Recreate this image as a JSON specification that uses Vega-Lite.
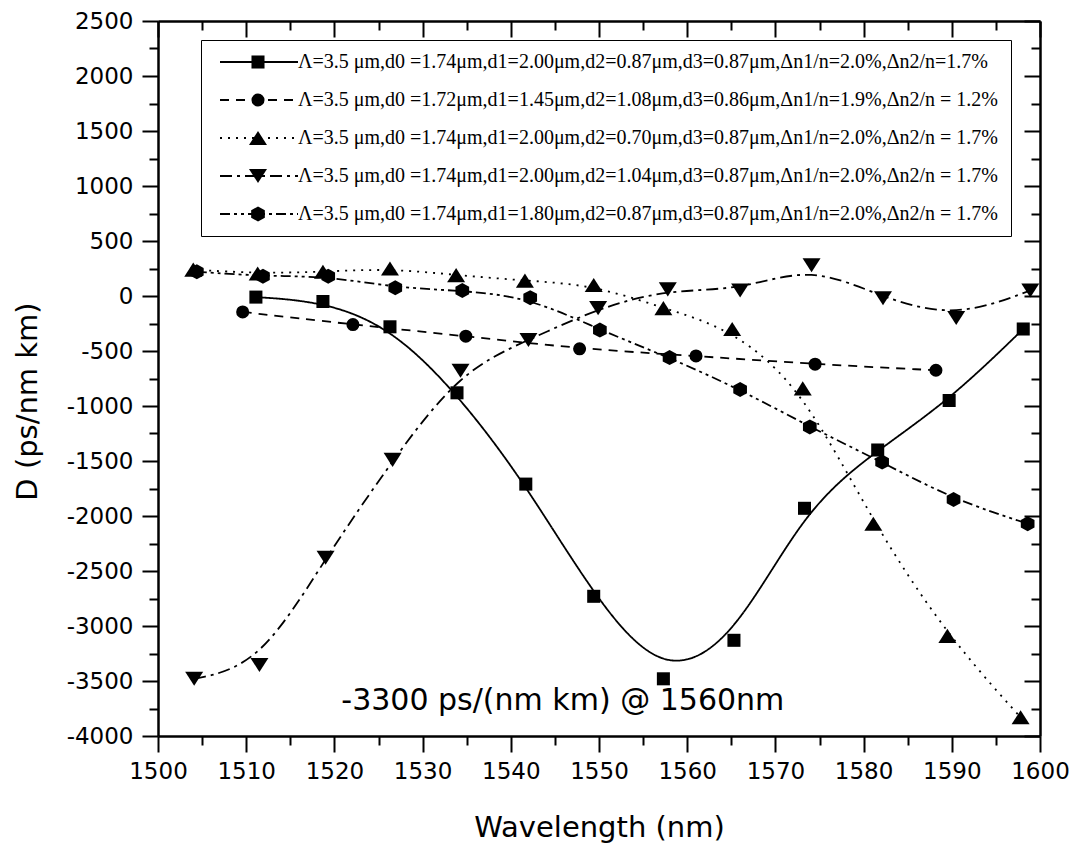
{
  "$schema": "https://vega.github.io/schema/vega-lite/v6.json",
  "width": 882,
  "height": 715,
  "autosize": {"type": "none"},
  "padding": {"left": 158, "top": 21, "right": 36, "bottom": 113},
  "background": "white",
  "config": {"view": {"stroke": null}},
  "data": {
    "values": [
      {"s": "Λ=3.5 μm,d0 =1.74μm,d1=2.00μm,d2=0.87μm,d3=0.87μm,Δn1/n=2.0%,Δn2/n=1.7%", "o": 1, "wl": 1511.1, "D": -10},
      {"s": "Λ=3.5 μm,d0 =1.74μm,d1=2.00μm,d2=0.87μm,d3=0.87μm,Δn1/n=2.0%,Δn2/n=1.7%", "o": 1, "wl": 1518.7, "D": -50},
      {"s": "Λ=3.5 μm,d0 =1.74μm,d1=2.00μm,d2=0.87μm,d3=0.87μm,Δn1/n=2.0%,Δn2/n=1.7%", "o": 1, "wl": 1526.3, "D": -280},
      {"s": "Λ=3.5 μm,d0 =1.74μm,d1=2.00μm,d2=0.87μm,d3=0.87μm,Δn1/n=2.0%,Δn2/n=1.7%", "o": 1, "wl": 1533.9, "D": -880},
      {"s": "Λ=3.5 μm,d0 =1.74μm,d1=2.00μm,d2=0.87μm,d3=0.87μm,Δn1/n=2.0%,Δn2/n=1.7%", "o": 1, "wl": 1541.7, "D": -1710},
      {"s": "Λ=3.5 μm,d0 =1.74μm,d1=2.00μm,d2=0.87μm,d3=0.87μm,Δn1/n=2.0%,Δn2/n=1.7%", "o": 1, "wl": 1549.4, "D": -2730},
      {"s": "Λ=3.5 μm,d0 =1.74μm,d1=2.00μm,d2=0.87μm,d3=0.87μm,Δn1/n=2.0%,Δn2/n=1.7%", "o": 1, "wl": 1557.3, "D": -3480},
      {"s": "Λ=3.5 μm,d0 =1.74μm,d1=2.00μm,d2=0.87μm,d3=0.87μm,Δn1/n=2.0%,Δn2/n=1.7%", "o": 1, "wl": 1565.3, "D": -3130},
      {"s": "Λ=3.5 μm,d0 =1.74μm,d1=2.00μm,d2=0.87μm,d3=0.87μm,Δn1/n=2.0%,Δn2/n=1.7%", "o": 1, "wl": 1573.3, "D": -1930},
      {"s": "Λ=3.5 μm,d0 =1.74μm,d1=2.00μm,d2=0.87μm,d3=0.87μm,Δn1/n=2.0%,Δn2/n=1.7%", "o": 1, "wl": 1581.6, "D": -1400},
      {"s": "Λ=3.5 μm,d0 =1.74μm,d1=2.00μm,d2=0.87μm,d3=0.87μm,Δn1/n=2.0%,Δn2/n=1.7%", "o": 1, "wl": 1589.7, "D": -950},
      {"s": "Λ=3.5 μm,d0 =1.74μm,d1=2.00μm,d2=0.87μm,d3=0.87μm,Δn1/n=2.0%,Δn2/n=1.7%", "o": 1, "wl": 1598.1, "D": -300},

      {"s": "Λ=3.5 μm,d0 =1.72μm,d1=1.45μm,d2=1.08μm,d3=0.86μm,Δn1/n=1.9%,Δn2/n = 1.2%", "o": 2, "wl": 1509.6, "D": -145},
      {"s": "Λ=3.5 μm,d0 =1.72μm,d1=1.45μm,d2=1.08μm,d3=0.86μm,Δn1/n=1.9%,Δn2/n = 1.2%", "o": 2, "wl": 1522.1, "D": -260},
      {"s": "Λ=3.5 μm,d0 =1.72μm,d1=1.45μm,d2=1.08μm,d3=0.86μm,Δn1/n=1.9%,Δn2/n = 1.2%", "o": 2, "wl": 1534.9, "D": -365},
      {"s": "Λ=3.5 μm,d0 =1.72μm,d1=1.45μm,d2=1.08μm,d3=0.86μm,Δn1/n=1.9%,Δn2/n = 1.2%", "o": 2, "wl": 1547.8, "D": -480},
      {"s": "Λ=3.5 μm,d0 =1.72μm,d1=1.45μm,d2=1.08μm,d3=0.86μm,Δn1/n=1.9%,Δn2/n = 1.2%", "o": 2, "wl": 1561.0, "D": -545},
      {"s": "Λ=3.5 μm,d0 =1.72μm,d1=1.45μm,d2=1.08μm,d3=0.86μm,Δn1/n=1.9%,Δn2/n = 1.2%", "o": 2, "wl": 1574.5, "D": -620},
      {"s": "Λ=3.5 μm,d0 =1.72μm,d1=1.45μm,d2=1.08μm,d3=0.86μm,Δn1/n=1.9%,Δn2/n = 1.2%", "o": 2, "wl": 1588.2, "D": -675},

      {"s": "Λ=3.5 μm,d0 =1.74μm,d1=2.00μm,d2=0.70μm,d3=0.87μm,Δn1/n=2.0%,Δn2/n = 1.7%", "o": 3, "wl": 1504.0, "D": 240},
      {"s": "Λ=3.5 μm,d0 =1.74μm,d1=2.00μm,d2=0.70μm,d3=0.87μm,Δn1/n=2.0%,Δn2/n = 1.7%", "o": 3, "wl": 1511.3, "D": 205},
      {"s": "Λ=3.5 μm,d0 =1.74μm,d1=2.00μm,d2=0.70μm,d3=0.87μm,Δn1/n=2.0%,Δn2/n = 1.7%", "o": 3, "wl": 1518.7, "D": 220},
      {"s": "Λ=3.5 μm,d0 =1.74μm,d1=2.00μm,d2=0.70μm,d3=0.87μm,Δn1/n=2.0%,Δn2/n = 1.7%", "o": 3, "wl": 1526.3, "D": 250},
      {"s": "Λ=3.5 μm,d0 =1.74μm,d1=2.00μm,d2=0.70μm,d3=0.87μm,Δn1/n=2.0%,Δn2/n = 1.7%", "o": 3, "wl": 1533.8, "D": 190},
      {"s": "Λ=3.5 μm,d0 =1.74μm,d1=2.00μm,d2=0.70μm,d3=0.87μm,Δn1/n=2.0%,Δn2/n = 1.7%", "o": 3, "wl": 1541.6, "D": 140},
      {"s": "Λ=3.5 μm,d0 =1.74μm,d1=2.00μm,d2=0.70μm,d3=0.87μm,Δn1/n=2.0%,Δn2/n = 1.7%", "o": 3, "wl": 1549.4, "D": 100},
      {"s": "Λ=3.5 μm,d0 =1.74μm,d1=2.00μm,d2=0.70μm,d3=0.87μm,Δn1/n=2.0%,Δn2/n = 1.7%", "o": 3, "wl": 1557.3, "D": -110},
      {"s": "Λ=3.5 μm,d0 =1.74μm,d1=2.00μm,d2=0.70μm,d3=0.87μm,Δn1/n=2.0%,Δn2/n = 1.7%", "o": 3, "wl": 1565.1, "D": -300},
      {"s": "Λ=3.5 μm,d0 =1.74μm,d1=2.00μm,d2=0.70μm,d3=0.87μm,Δn1/n=2.0%,Δn2/n = 1.7%", "o": 3, "wl": 1573.1, "D": -840},
      {"s": "Λ=3.5 μm,d0 =1.74μm,d1=2.00μm,d2=0.70μm,d3=0.87μm,Δn1/n=2.0%,Δn2/n = 1.7%", "o": 3, "wl": 1581.1, "D": -2070},
      {"s": "Λ=3.5 μm,d0 =1.74μm,d1=2.00μm,d2=0.70μm,d3=0.87μm,Δn1/n=2.0%,Δn2/n = 1.7%", "o": 3, "wl": 1589.5, "D": -3090},
      {"s": "Λ=3.5 μm,d0 =1.74μm,d1=2.00μm,d2=0.70μm,d3=0.87μm,Δn1/n=2.0%,Δn2/n = 1.7%", "o": 3, "wl": 1597.8, "D": -3830},

      {"s": "Λ=3.5 μm,d0 =1.74μm,d1=2.00μm,d2=1.04μm,d3=0.87μm,Δn1/n=2.0%,Δn2/n = 1.7%", "o": 4, "wl": 1504.1, "D": -3480},
      {"s": "Λ=3.5 μm,d0 =1.74μm,d1=2.00μm,d2=1.04μm,d3=0.87μm,Δn1/n=2.0%,Δn2/n = 1.7%", "o": 4, "wl": 1511.5, "D": -3355},
      {"s": "Λ=3.5 μm,d0 =1.74μm,d1=2.00μm,d2=1.04μm,d3=0.87μm,Δn1/n=2.0%,Δn2/n = 1.7%", "o": 4, "wl": 1519.0, "D": -2380},
      {"s": "Λ=3.5 μm,d0 =1.74μm,d1=2.00μm,d2=1.04μm,d3=0.87μm,Δn1/n=2.0%,Δn2/n = 1.7%", "o": 4, "wl": 1526.6, "D": -1490},
      {"s": "Λ=3.5 μm,d0 =1.74μm,d1=2.00μm,d2=1.04μm,d3=0.87μm,Δn1/n=2.0%,Δn2/n = 1.7%", "o": 4, "wl": 1534.3, "D": -680},
      {"s": "Λ=3.5 μm,d0 =1.74μm,d1=2.00μm,d2=1.04μm,d3=0.87μm,Δn1/n=2.0%,Δn2/n = 1.7%", "o": 4, "wl": 1542.0, "D": -400},
      {"s": "Λ=3.5 μm,d0 =1.74μm,d1=2.00μm,d2=1.04μm,d3=0.87μm,Δn1/n=2.0%,Δn2/n = 1.7%", "o": 4, "wl": 1549.9, "D": -110},
      {"s": "Λ=3.5 μm,d0 =1.74μm,d1=2.00μm,d2=1.04μm,d3=0.87μm,Δn1/n=2.0%,Δn2/n = 1.7%", "o": 4, "wl": 1557.8, "D": 60},
      {"s": "Λ=3.5 μm,d0 =1.74μm,d1=2.00μm,d2=1.04μm,d3=0.87μm,Δn1/n=2.0%,Δn2/n = 1.7%", "o": 4, "wl": 1566.0, "D": 50},
      {"s": "Λ=3.5 μm,d0 =1.74μm,d1=2.00μm,d2=1.04μm,d3=0.87μm,Δn1/n=2.0%,Δn2/n = 1.7%", "o": 4, "wl": 1574.1, "D": 280},
      {"s": "Λ=3.5 μm,d0 =1.74μm,d1=2.00μm,d2=1.04μm,d3=0.87μm,Δn1/n=2.0%,Δn2/n = 1.7%", "o": 4, "wl": 1582.2, "D": -20},
      {"s": "Λ=3.5 μm,d0 =1.74μm,d1=2.00μm,d2=1.04μm,d3=0.87μm,Δn1/n=2.0%,Δn2/n = 1.7%", "o": 4, "wl": 1590.5, "D": -200},
      {"s": "Λ=3.5 μm,d0 =1.74μm,d1=2.00μm,d2=1.04μm,d3=0.87μm,Δn1/n=2.0%,Δn2/n = 1.7%", "o": 4, "wl": 1598.9, "D": 50},

      {"s": "Λ=3.5 μm,d0 =1.74μm,d1=1.80μm,d2=0.87μm,d3=0.87μm,Δn1/n=2.0%,Δn2/n = 1.7%", "o": 5, "wl": 1504.4, "D": 220},
      {"s": "Λ=3.5 μm,d0 =1.74μm,d1=1.80μm,d2=0.87μm,d3=0.87μm,Δn1/n=2.0%,Δn2/n = 1.7%", "o": 5, "wl": 1511.9, "D": 180},
      {"s": "Λ=3.5 μm,d0 =1.74μm,d1=1.80μm,d2=0.87μm,d3=0.87μm,Δn1/n=2.0%,Δn2/n = 1.7%", "o": 5, "wl": 1519.3, "D": 180},
      {"s": "Λ=3.5 μm,d0 =1.74μm,d1=1.80μm,d2=0.87μm,d3=0.87μm,Δn1/n=2.0%,Δn2/n = 1.7%", "o": 5, "wl": 1526.9, "D": 75},
      {"s": "Λ=3.5 μm,d0 =1.74μm,d1=1.80μm,d2=0.87μm,d3=0.87μm,Δn1/n=2.0%,Δn2/n = 1.7%", "o": 5, "wl": 1534.5, "D": 50},
      {"s": "Λ=3.5 μm,d0 =1.74μm,d1=1.80μm,d2=0.87μm,d3=0.87μm,Δn1/n=2.0%,Δn2/n = 1.7%", "o": 5, "wl": 1542.2, "D": -15},
      {"s": "Λ=3.5 μm,d0 =1.74μm,d1=1.80μm,d2=0.87μm,d3=0.87μm,Δn1/n=2.0%,Δn2/n = 1.7%", "o": 5, "wl": 1550.1, "D": -310},
      {"s": "Λ=3.5 μm,d0 =1.74μm,d1=1.80μm,d2=0.87μm,d3=0.87μm,Δn1/n=2.0%,Δn2/n = 1.7%", "o": 5, "wl": 1558.0, "D": -560},
      {"s": "Λ=3.5 μm,d0 =1.74μm,d1=1.80μm,d2=0.87μm,d3=0.87μm,Δn1/n=2.0%,Δn2/n = 1.7%", "o": 5, "wl": 1566.0, "D": -850},
      {"s": "Λ=3.5 μm,d0 =1.74μm,d1=1.80μm,d2=0.87μm,d3=0.87μm,Δn1/n=2.0%,Δn2/n = 1.7%", "o": 5, "wl": 1573.9, "D": -1190},
      {"s": "Λ=3.5 μm,d0 =1.74μm,d1=1.80μm,d2=0.87μm,d3=0.87μm,Δn1/n=2.0%,Δn2/n = 1.7%", "o": 5, "wl": 1582.1, "D": -1510},
      {"s": "Λ=3.5 μm,d0 =1.74μm,d1=1.80μm,d2=0.87μm,d3=0.87μm,Δn1/n=2.0%,Δn2/n = 1.7%", "o": 5, "wl": 1590.2, "D": -1850},
      {"s": "Λ=3.5 μm,d0 =1.74μm,d1=1.80μm,d2=0.87μm,d3=0.87μm,Δn1/n=2.0%,Δn2/n = 1.7%", "o": 5, "wl": 1598.6, "D": -2070}
    ]
  },
  "layer": [
    {
      "mark": {"type": "line", "interpolate": "basis", "color": "black", "strokeWidth": 1.8},
      "encoding": {
        "x": {
          "field": "wl", "type": "quantitative",
          "scale": {"domain": [1500, 1600], "nice": false, "zero": false},
          "axis": {
            "orient": "bottom",
            "values": [1500, 1510, 1520, 1530, 1540, 1550, 1560, 1570, 1580, 1590, 1600],
            "labelExpr": "'' + datum.value",
            "ticks": true, "tickSize": 16, "tickWidth": 2, "tickColor": "black",
            "domainColor": "black", "domainWidth": 2.5,
            "labelFont": "DejaVu Sans", "labelFontSize": 23, "labelColor": "black",
            "labelPadding": 8, "labelFlush": false, "labelOverlap": false,
            "title": "Wavelength (nm)", "titleFont": "DejaVu Sans", "titleFontSize": 29,
            "titleFontWeight": "normal", "titleColor": "black", "titleY": 77,
            "grid": false
          }
        },
        "y": {
          "field": "D", "type": "quantitative",
          "scale": {"domain": [-4000, 2500], "nice": false, "zero": false},
          "axis": {
            "orient": "left",
            "values": [-4000, -3500, -3000, -2500, -2000, -1500, -1000, -500, 0, 500, 1000, 1500, 2000, 2500],
            "labelExpr": "'' + datum.value",
            "ticks": true, "tickSize": 16, "tickWidth": 2, "tickColor": "black",
            "domainColor": "black", "domainWidth": 2.5,
            "labelFont": "DejaVu Sans", "labelFontSize": 23, "labelColor": "black",
            "labelPadding": 9, "labelFlush": false, "labelOverlap": false,
            "title": "D (ps/nm km)", "titleFont": "DejaVu Sans", "titleFontSize": 29,
            "titleFontWeight": "normal", "titleColor": "black", "titleX": -116, "titleY": 380,
            "grid": false
          }
        },
        "strokeDash": {
          "field": "s", "type": "nominal",
          "sort": {"field": "o", "op": "min"},
          "scale": {"range": [[1, 0], [9, 7], [2, 6], [12, 5, 3, 5], [10, 4, 3, 4, 3, 4]]},
          "legend": {
            "title": null, "orient": "none", "legendX": 43, "legendY": 19,
            "symbolType": "M-6,0H6", "symbolSize": 169, "symbolStrokeWidth": 2,
            "symbolStrokeColor": "black", "symbolOffset": 36, "labelOffset": 29,
            "labelFont": "Liberation Serif", "labelFontSize": 20, "labelColor": "black",
            "labelLimit": 1000, "padding": 12, "rowPadding": 18, "strokeColor": "black"
          }
        }
      }
    },
    {
      "mark": {"type": "point", "filled": true, "color": "black", "opacity": 1, "size": 170},
      "encoding": {
        "x": {
          "field": "wl", "type": "quantitative",
          "axis": {
            "orient": "top",
            "values": [1500, 1510, 1520, 1530, 1540, 1550, 1560, 1570, 1580, 1590, 1600],
            "labels": false, "ticks": true, "tickSize": -16, "tickWidth": 2, "tickColor": "black",
            "domainColor": "black", "domainWidth": 2.5,
            "title": null, "grid": false
          }
        },
        "y": {
          "field": "D", "type": "quantitative",
          "axis": {
            "orient": "right",
            "values": [-4000, -3500, -3000, -2500, -2000, -1500, -1000, -500, 0, 500, 1000, 1500, 2000, 2500],
            "labels": false, "ticks": true, "tickSize": -16, "tickWidth": 2, "tickColor": "black",
            "domainColor": "black", "domainWidth": 2.5,
            "title": null, "grid": false
          }
        },
        "shape": {
          "field": "s", "type": "nominal",
          "scale": {
            "domain": [
              "Λ=3.5 μm,d0 =1.74μm,d1=2.00μm,d2=0.87μm,d3=0.87μm,Δn1/n=2.0%,Δn2/n=1.7%",
              "Λ=3.5 μm,d0 =1.72μm,d1=1.45μm,d2=1.08μm,d3=0.86μm,Δn1/n=1.9%,Δn2/n = 1.2%",
              "Λ=3.5 μm,d0 =1.74μm,d1=2.00μm,d2=0.70μm,d3=0.87μm,Δn1/n=2.0%,Δn2/n = 1.7%",
              "Λ=3.5 μm,d0 =1.74μm,d1=2.00μm,d2=1.04μm,d3=0.87μm,Δn1/n=2.0%,Δn2/n = 1.7%",
              "Λ=3.5 μm,d0 =1.74μm,d1=1.80μm,d2=0.87μm,d3=0.87μm,Δn1/n=2.0%,Δn2/n = 1.7%"
            ],
            "range": [
              "square",
              "circle",
              "M0,-1.08L1.38,1.08L-1.38,1.08Z",
              "M0,1.08L1.38,-1.08L-1.38,-1.08Z",
              "M0,-1.15L1.05,-0.58L1.05,0.58L0,1.15L-1.05,0.58L-1.05,-0.58Z"
            ]
          },
          "legend": {
            "title": null, "orient": "none", "legendX": 43, "legendY": 19,
            "symbolSize": 170, "symbolFillColor": "black", "symbolStrokeColor": "black",
            "symbolStrokeWidth": 0, "symbolOpacity": 1, "symbolOffset": 35,
            "labelExpr": "' '", "labelFont": "Liberation Serif", "labelFontSize": 20,
            "padding": 12, "rowPadding": 18
          }
        }
      }
    },
    {
      "data": {"values": [{"wl": 1545.9, "D": -3682, "note": "-3300 ps/(nm km) @ 1560nm"}]},
      "mark": {"type": "text", "font": "DejaVu Sans", "fontSize": 30, "align": "center", "baseline": "middle", "color": "black"},
      "encoding": {
        "x": {
          "field": "wl", "type": "quantitative",
          "axis": {
            "orient": "bottom",
            "values": [1505, 1515, 1525, 1535, 1545, 1555, 1565, 1575, 1585, 1595],
            "labels": false, "domain": false, "ticks": true, "tickSize": 9, "tickWidth": 2, "tickColor": "black",
            "title": null, "grid": false
          }
        },
        "y": {
          "field": "D", "type": "quantitative",
          "axis": {
            "orient": "left",
            "values": [-3750, -3250, -2750, -2250, -1750, -1250, -750, -250, 250, 750, 1250, 1750, 2250],
            "labels": false, "domain": false, "ticks": true, "tickSize": 9, "tickWidth": 2, "tickColor": "black",
            "title": null, "grid": false
          }
        },
        "text": {"field": "note"}
      }
    },
    {
      "data": {"values": []},
      "mark": {"type": "point"},
      "encoding": {
        "x": {
          "field": "wl", "type": "quantitative",
          "axis": {
            "orient": "top",
            "values": [1505, 1515, 1525, 1535, 1545, 1555, 1565, 1575, 1585, 1595],
            "labels": false, "domain": false, "ticks": true, "tickSize": -9, "tickWidth": 2, "tickColor": "black",
            "title": null, "grid": false
          }
        },
        "y": {
          "field": "D", "type": "quantitative",
          "axis": {
            "orient": "right",
            "values": [-3750, -3250, -2750, -2250, -1750, -1250, -750, -250, 250, 750, 1250, 1750, 2250],
            "labels": false, "domain": false, "ticks": true, "tickSize": -9, "tickWidth": 2, "tickColor": "black",
            "title": null, "grid": false
          }
        }
      }
    }
  ],
  "resolve": {"axis": {"x": "independent", "y": "independent"}}
}
